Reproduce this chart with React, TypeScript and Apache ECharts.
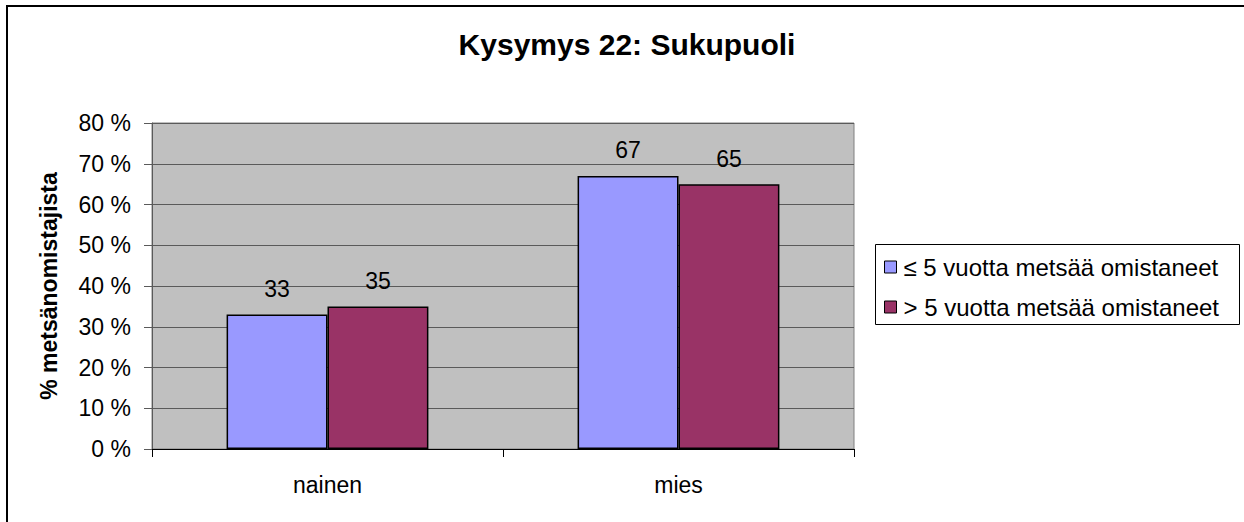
import React, { useEffect, useRef } from "react";
import * as echarts from "echarts";

const categories: string[] = ["nainen", "mies"];
const seriesNames: string[] = ["≤ 5 vuotta metsää omistaneet", "> 5 vuotta metsää omistaneet"];
const shortOwners: number[] = [33, 67];
const longOwners: number[] = [35, 65];
const yTicks: number[] = [0, 10, 20, 30, 40, 50, 60, 70, 80];
const titleText = "Kysymys 22: Sukupuoli";
const yAxisName = "% metsänomistajista";

const FONT = "Arial, 'Liberation Sans', sans-serif";

export default function App() {
  const ref = useRef<HTMLDivElement>(null);
  useEffect(() => {
    if (!ref.current) return;
    const chart = echarts.init(ref.current, null, { renderer: "svg" });
    const labelStyle = {
      show: true,
      position: "top" as const,
      distance: 14,
      color: "#000",
      fontFamily: FONT,
      fontSize: 23,
    };
    chart.setOption({
      animation: false,
      backgroundColor: "#fff",
      title: {
        text: titleText,
        left: 627,
        textAlign: "center",
        top: 29,
        padding: 0,
        textStyle: { fontFamily: FONT, fontSize: 30, fontWeight: "bold", color: "#000" },
      },
      graphic: [
        {
          type: "rect",
          shape: { x: 7, y: 6, width: 1300, height: 600 },
          style: { fill: "none", stroke: "#000", lineWidth: 2 },
          silent: true,
        },
        {
          type: "rect",
          shape: { x: 875.5, y: 244.5, width: 364, height: 80 },
          style: { fill: "#fff", stroke: "#000", lineWidth: 1 },
          silent: true,
          z: -1,
        },
      ],
      legend: {
        orient: "vertical",
        left: 875,
        top: 244,
        padding: [11, 8, 5, 9],
        itemGap: 16,
        itemWidth: 12,
        itemHeight: 12,
        icon: "rect",
        data: seriesNames,
        textStyle: { fontFamily: FONT, fontSize: 24, color: "#000", lineHeight: 24, padding: [0, 0, 0, 2] },
        itemStyle: { borderColor: "#000", borderWidth: 1 },
      },
      grid: {
        left: 152,
        top: 123,
        right: 390,
        bottom: 73,
        show: true,
        backgroundColor: "#C0C0C0",
        borderColor: "#808080",
        borderWidth: 1,
      },
      xAxis: {
        type: "category",
        data: categories,
        axisLine: { show: true, lineStyle: { color: "#000", width: 1 } },
        axisTick: { show: true, length: 8, lineStyle: { color: "#000" } },
        axisLabel: { margin: 24, color: "#000", fontFamily: FONT, fontSize: 23 },
      },
      yAxis: {
        type: "value",
        min: yTicks[0],
        max: yTicks[yTicks.length - 1],
        interval: 10,
        name: yAxisName,
        nameLocation: "middle",
        nameGap: 92,
        nameTextStyle: { fontFamily: FONT, fontSize: 23, fontWeight: "bold", color: "#000" },
        axisLine: { show: true, lineStyle: { color: "#5a5a5a", width: 1 } },
        axisTick: { show: true, length: 8, lineStyle: { color: "#5a5a5a" } },
        splitLine: { show: true, lineStyle: { color: "#5a5a5a", width: 1 } },
        axisLabel: {
          margin: 21,
          color: "#000",
          fontFamily: FONT,
          fontSize: 23,
          formatter: (v: number) => `${v} %`,
        },
      },
      series: [
        {
          name: seriesNames[0],
          type: "bar",
          data: shortOwners,
          barGap: "0%",
          barCategoryGap: "42.5%",
          itemStyle: { color: "#9999FF", borderColor: "#000", borderWidth: 1.5 },
          label: labelStyle,
        },
        {
          name: seriesNames[1],
          type: "bar",
          data: longOwners,
          barGap: "0%",
          barCategoryGap: "42.5%",
          itemStyle: { color: "#993366", borderColor: "#000", borderWidth: 1.5 },
          label: labelStyle,
        },
      ],
    });
    return () => chart.dispose();
  }, []);
  return (
    <div
      ref={ref}
      style={{ position: "absolute", left: 0, top: 0, width: 1244, height: 522 }}
    />
  );
}
